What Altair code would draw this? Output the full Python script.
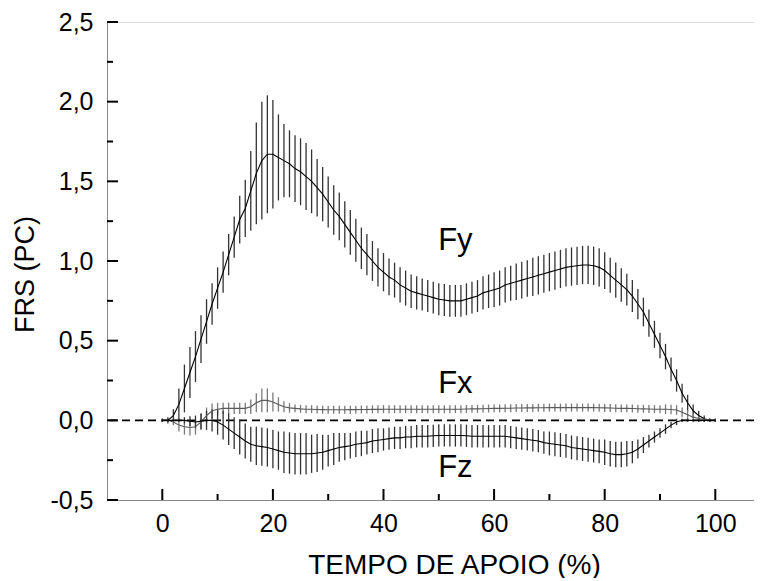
import altair as alt
import pandas as pd

# Stance time (%) sampled every 1 %
tempo = list(range(101))

fy_mean = [
    0.00, 0.00, 0.03, 0.10, 0.20, 0.30, 0.40, 0.51, 0.62, 0.73,
    0.83, 0.93, 1.04, 1.15, 1.26, 1.33, 1.44, 1.55, 1.63, 1.67,
    1.67, 1.65, 1.63, 1.61, 1.58, 1.56, 1.53, 1.50, 1.46, 1.42,
    1.37, 1.32, 1.28, 1.23, 1.18, 1.13, 1.08, 1.04, 1.00, 0.96,
    0.93, 0.90, 0.88, 0.85, 0.83, 0.81, 0.80, 0.79, 0.78, 0.77,
    0.76, 0.755, 0.75, 0.75, 0.75, 0.76, 0.77, 0.78, 0.80, 0.81,
    0.82, 0.83, 0.85, 0.86, 0.87, 0.88, 0.89, 0.90, 0.91, 0.92,
    0.93, 0.94, 0.95, 0.96, 0.965, 0.97, 0.975, 0.975, 0.97, 0.96,
    0.94, 0.91, 0.88, 0.85, 0.82, 0.78, 0.73, 0.68, 0.61, 0.54,
    0.47, 0.40, 0.32, 0.25, 0.17, 0.11, 0.06, 0.03, 0.01, 0.00,
    0.00,
]
fy_sd = [
    0.01, 0.02, 0.04, 0.10, 0.15, 0.16, 0.16, 0.15, 0.14, 0.13,
    0.13, 0.13, 0.13, 0.13, 0.15, 0.18, 0.25, 0.32, 0.37, 0.37,
    0.34, 0.27, 0.23, 0.21, 0.21, 0.21, 0.21, 0.20, 0.18, 0.17,
    0.16, 0.155, 0.15, 0.145, 0.14, 0.135, 0.13, 0.13, 0.125, 0.12,
    0.12, 0.115, 0.11, 0.11, 0.11, 0.105, 0.105, 0.10, 0.10, 0.10,
    0.10, 0.10, 0.10, 0.10, 0.10, 0.10, 0.10, 0.10, 0.105, 0.105,
    0.11, 0.11, 0.11, 0.11, 0.115, 0.115, 0.115, 0.12, 0.12, 0.12,
    0.12, 0.12, 0.12, 0.12, 0.12, 0.12, 0.12, 0.12, 0.12, 0.12,
    0.115, 0.11, 0.11, 0.105, 0.10, 0.10, 0.095, 0.09, 0.085, 0.085,
    0.08, 0.08, 0.075, 0.07, 0.06, 0.05, 0.04, 0.03, 0.02, 0.01,
    0.01,
]
fx_mean = [
    0.00, 0.00, -0.01, -0.03, -0.04, -0.045, -0.04, -0.01, 0.03, 0.06,
    0.07, 0.075, 0.075, 0.075, 0.075, 0.075, 0.085, 0.11, 0.125, 0.125,
    0.115, 0.10, 0.085, 0.078, 0.075, 0.072, 0.07, 0.07, 0.068, 0.067,
    0.066, 0.066, 0.066, 0.066, 0.067, 0.067, 0.068, 0.068, 0.069, 0.069,
    0.07, 0.07, 0.07, 0.07, 0.07, 0.07, 0.07, 0.07, 0.07, 0.07,
    0.07, 0.07, 0.07, 0.07, 0.07, 0.071, 0.072, 0.072, 0.073, 0.074,
    0.075, 0.075, 0.076, 0.076, 0.077, 0.077, 0.078, 0.078, 0.079, 0.079,
    0.08, 0.08, 0.08, 0.08, 0.08, 0.08, 0.08, 0.08, 0.08, 0.079,
    0.078, 0.077, 0.076, 0.075, 0.075, 0.074, 0.073, 0.072, 0.071, 0.07,
    0.07, 0.07, 0.068, 0.065, 0.05, 0.035, 0.02, 0.012, 0.006, 0.003,
    0.00,
]
fx_sd = [
    0.01, 0.015, 0.02, 0.04, 0.05, 0.05, 0.05, 0.05, 0.05, 0.045,
    0.04, 0.035, 0.035, 0.035, 0.035, 0.035, 0.045, 0.06, 0.075, 0.075,
    0.06, 0.045, 0.035, 0.03, 0.025, 0.025, 0.025, 0.025, 0.025, 0.025,
    0.025, 0.025, 0.025, 0.025, 0.025, 0.025, 0.025, 0.025, 0.025, 0.025,
    0.025, 0.025, 0.025, 0.025, 0.025, 0.025, 0.025, 0.025, 0.025, 0.025,
    0.025, 0.025, 0.025, 0.025, 0.025, 0.025, 0.025, 0.025, 0.025, 0.025,
    0.025, 0.025, 0.025, 0.025, 0.025, 0.025, 0.025, 0.025, 0.025, 0.025,
    0.025, 0.025, 0.025, 0.025, 0.025, 0.025, 0.025, 0.025, 0.025, 0.025,
    0.025, 0.025, 0.025, 0.025, 0.025, 0.025, 0.025, 0.025, 0.025, 0.025,
    0.025, 0.03, 0.03, 0.03, 0.03, 0.03, 0.02, 0.015, 0.01, 0.01,
    0.01,
]
fz_mean = [
    0.0, 0.0, 0.0, 0.0, 0.0, -0.005, -0.01, -0.005, 0.0, 0.0,
    -0.01, -0.03, -0.055, -0.08, -0.105, -0.13, -0.15, -0.16, -0.165, -0.17,
    -0.18, -0.19, -0.20, -0.205, -0.21, -0.21, -0.21, -0.21, -0.205, -0.20,
    -0.19, -0.18, -0.17, -0.165, -0.16, -0.15, -0.145, -0.14, -0.13, -0.125,
    -0.12, -0.115, -0.11, -0.11, -0.105, -0.105, -0.10, -0.10, -0.10, -0.097,
    -0.095, -0.095, -0.095, -0.095, -0.095, -0.097, -0.10, -0.10, -0.10, -0.10,
    -0.10, -0.10, -0.10, -0.105, -0.11, -0.115, -0.12, -0.125, -0.13, -0.14,
    -0.145, -0.15, -0.155, -0.16, -0.17, -0.175, -0.18, -0.185, -0.19, -0.195,
    -0.20, -0.21, -0.215, -0.215, -0.21, -0.20, -0.18, -0.155, -0.13, -0.105,
    -0.08, -0.055, -0.03, -0.01, 0.0, 0.0, 0.0, 0.0, 0.0, 0.0,
    0.0,
]
fz_sd = [
    0.01, 0.01, 0.01, 0.01, 0.02, 0.03, 0.04, 0.05, 0.06, 0.07,
    0.08, 0.09, 0.10, 0.10, 0.11, 0.11, 0.11, 0.12, 0.12, 0.12,
    0.12, 0.12, 0.13, 0.13, 0.13, 0.13, 0.13, 0.12, 0.12, 0.11,
    0.10, 0.10, 0.09, 0.085, 0.08, 0.08, 0.08, 0.075, 0.075, 0.075,
    0.07, 0.07, 0.07, 0.07, 0.07, 0.07, 0.07, 0.07, 0.07, 0.07,
    0.07, 0.07, 0.07, 0.07, 0.07, 0.07, 0.07, 0.07, 0.07, 0.07,
    0.07, 0.07, 0.07, 0.07, 0.07, 0.07, 0.07, 0.07, 0.07, 0.07,
    0.075, 0.075, 0.075, 0.075, 0.075, 0.075, 0.075, 0.075, 0.075, 0.075,
    0.08, 0.08, 0.08, 0.08, 0.08, 0.07, 0.06, 0.05, 0.04, 0.035,
    0.03, 0.03, 0.02, 0.02, 0.01, 0.01, 0.01, 0.01, 0.01, 0.01,
    0.01,
]

series_names = ["Fy", "Fx", "Fz"]
label_x = [53, 53, 53]
label_y = [1.069, 0.17, -0.354]

x_major = [0, 20, 40, 60, 80, 100]
x_minor = [10, 30, 50, 70, 90]
y_major = [-0.5, 0.0, 0.5, 1.0, 1.5, 2.0, 2.5]
y_minor = [-0.25, 0.25, 0.75, 1.25, 1.75, 2.25]

rows = []
for name, m, s in [("Fy", fy_mean, fy_sd), ("Fx", fx_mean, fx_sd), ("Fz", fz_mean, fz_sd)]:
    for xi, mi, si in zip(tempo, m, s):
        rows.append({"x": xi, "s": name, "m": mi, "lo": mi - si, "hi": mi + si})
df = pd.DataFrame(rows)

W, H = 647, 478
FONT = "Liberation Sans"

xscale = alt.Scale(domain=[-10, 107], nice=False, zero=False)
yscale = alt.Scale(domain=[-0.5, 2.5], nice=False, zero=False)

xaxis = alt.Axis(values=x_major, ticks=False, labelFontSize=25, labelPadding=11,
                 title="TEMPO DE APOIO (%)", titleFontSize=28, titleFontWeight="normal",
                 titleX=347, titleY=73, titleBaseline="alphabetic", titleAlign="center", grid=False)
yaxis = alt.Axis(values=y_major, ticks=False, labelFontSize=25, labelPadding=14,
                 labelExpr="replace(replace(format(datum.value, '.1f'), '.', ','), '\u2212', '-')",
                 title="FRS (PC)", titleFontSize=27, titleFontWeight="normal", titleX=-82, titleY=252,
                 titleBaseline="middle", titleAlign="center", titleAngle=-90, grid=False)

X = alt.X("x:Q", scale=xscale, axis=xaxis)

zero_line = alt.Chart(pd.DataFrame({"y": [0.0]})).mark_rule(
    color="black", strokeDash=[8, 5], strokeWidth=1.8
).encode(y=alt.Y("y:Q", scale=yscale, axis=yaxis))

bars = alt.Chart(df).mark_rule(strokeWidth=1.3).encode(
    x=X,
    y=alt.Y("lo:Q", scale=yscale, axis=yaxis),
    y2="hi:Q",
    color=alt.Color("s:N", scale=alt.Scale(domain=series_names, range=["#333333", "#7a7a7a", "#333333"]), legend=None),
)

lines = alt.Chart(df).mark_line(strokeWidth=1.1).encode(
    x=X,
    y=alt.Y("m:Q", scale=yscale, axis=yaxis),
    stroke=alt.Stroke("s:N", scale=alt.Scale(domain=series_names, range=["#000000", "#5a5a5a", "#000000"]), legend=None),
)

labels = alt.Chart(pd.DataFrame({"x": label_x, "y": label_y, "t": series_names})).mark_text(
    font=FONT, fontSize=31, baseline="alphabetic", align="center", color="black"
).encode(x=X, y=alt.Y("y:Q", scale=yscale, axis=yaxis), text="t:N")

xt_major = alt.Chart(pd.DataFrame({"x": x_major})).mark_rule(color="black", strokeWidth=2).encode(
    x=X, y=alt.value(H), y2=alt.value(H - 11))
xt_minor = alt.Chart(pd.DataFrame({"x": x_minor})).mark_rule(color="black", strokeWidth=2).encode(
    x=X, y=alt.value(H), y2=alt.value(H - 6))
yt_major = alt.Chart(pd.DataFrame({"y": y_major})).mark_rule(color="black", strokeWidth=2).encode(
    y=alt.Y("y:Q", scale=yscale, axis=yaxis), x=alt.value(0), x2=alt.value(11))
yt_minor = alt.Chart(pd.DataFrame({"y": y_minor})).mark_rule(color="black", strokeWidth=2).encode(
    y=alt.Y("y:Q", scale=yscale, axis=yaxis), x=alt.value(0), x2=alt.value(6))

chart = alt.layer(
    zero_line, bars, lines, labels, xt_major, xt_minor, yt_major, yt_minor
).properties(
    width=W, height=H, autosize="none",
    padding={"left": 99, "top": 14, "right": 0, "bottom": 78},
).configure_view(stroke=None).configure_axis(
    domainColor="black", domainWidth=2, labelColor="black", titleColor="black",
    labelFont=FONT, titleFont=FONT, titleFontWeight="normal",
).configure(background="white")

chart.save("out.html", embed_options={"renderer": "svg", "actions": False})
